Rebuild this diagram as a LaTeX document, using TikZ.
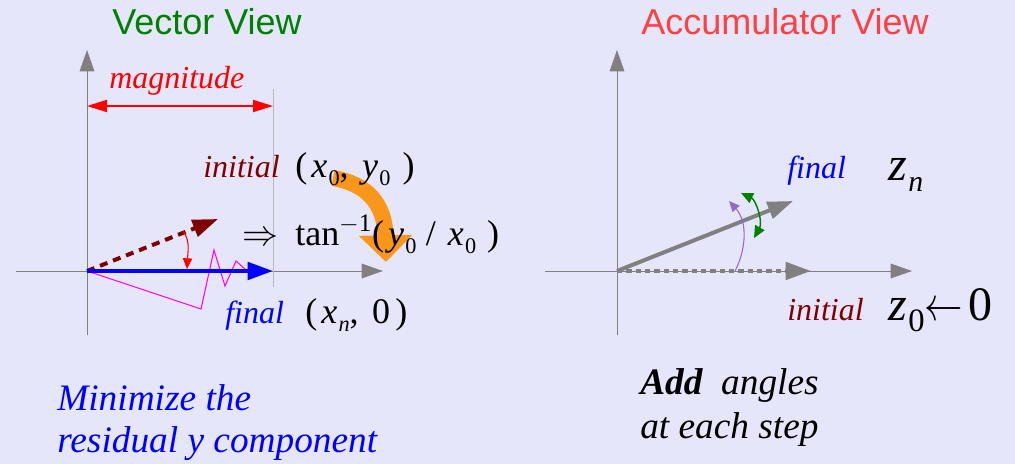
\RequirePackage{fix-cm}
\documentclass[tikz,border=0pt]{standalone}
\usepackage{fontspec}
\setmainfont{Liberation Serif}[
  UprightFont={Liberation Serif},
  ItalicFont={Liberation Serif Italic},
  BoldFont={Liberation Serif Bold},
  BoldItalicFont={Liberation Serif Bold Italic}]
\setsansfont{Liberation Sans}
\usepackage{tikz}
\usetikzlibrary{arrows.meta}
\definecolor{bglav}{RGB}{230,230,250}
\definecolor{axgray}{RGB}{128,128,128}
\definecolor{guidegray}{RGB}{185,185,190}
\definecolor{ttlgreen}{RGB}{0,128,0}
\definecolor{ttlred}{RGB}{255,64,64}
\definecolor{magred}{RGB}{255,0,0}
\definecolor{initred}{RGB}{128,0,0}
\definecolor{finblue}{RGB}{0,0,255}
\definecolor{turnorange}{RGB}{250,150,25}
\definecolor{zigmag}{RGB}{255,0,255}
\definecolor{angpurple}{RGB}{153,102,204}
\definecolor{anggreen}{RGB}{0,128,0}
\tikzset{
  title/.style={anchor=base west, inner sep=0pt,
    font=\sffamily\fontsize{27}{32}\selectfont},
  lbl/.style={anchor=base west, inner sep=0pt,
    font=\fontsize{24}{28}\selectfont\itshape},
  eqn/.style={anchor=base west, inner sep=0pt,
    font=\fontsize{27}{30}\selectfont},
  bigeqn/.style={anchor=base west, inner sep=0pt,
    font=\fontsize{36}{40}\selectfont},
  note/.style={anchor=base west, inner sep=0pt, align=left,
    font=\fontsize{28}{30}\selectfont\itshape},
  axisline/.style={draw=axgray, line width=0.75pt,
    -{Triangle[length=16pt,width=11pt]}},
  guide/.style={draw=guidegray, line width=0.75pt},
  magarrow/.style={draw=magred, line width=1.5pt,
    {Triangle[length=15pt,width=9pt]}-{Triangle[length=15pt,width=9pt]}},
  vecarrow/.style={line width=3pt, -{Triangle[length=19pt,width=13pt]}},
  thinarrow/.style={line width=0.8pt, -{Triangle[length=8pt,width=7pt]}}
}
% italic letter with a lowered, smaller subscript
\newcommand{\sbs}[3][0.62]{\textit{#2}\kern1pt\raisebox{-0.24em}{\scalebox{#1}{#3}}}

\begin{document}
\begin{tikzpicture}[x=0.75pt, y=-0.75pt]
  \fill[bglav] (0,0) rectangle (1015,464);
  \useasboundingbox (0,0) rectangle (1015,464);

  % ---- Vector View ----
  \coordinate (vo) at (87,271);
  \coordinate (vybot) at (87,335);
  \coordinate (vytop) at (87,50);
  \coordinate (vxl) at (16,271);
  \coordinate (vxr) at (383,271);
  \coordinate (gtop) at (273,89);
  \coordinate (gbot) at (273,287);
  \coordinate (mleft) at (87,106);
  \coordinate (mright) at (273,106);
  \coordinate (vinit) at (218,219);
  \coordinate (vfin) at (273,271);
  \draw[axisline] (vybot) -- (vytop);
  \draw[axisline] (vxl) -- (vxr);
  \draw[guide] (gtop) -- (gbot);
  \draw[magarrow] (mleft) -- (mright);

  % orange turn arrow, under the text
  \coordinate (tstart) at (333,178);
  \coordinate (tend) at (386,262);
  \draw[turnorange, line width=12pt, -{Triangle[length=20pt,width=39pt]}]
    (tstart) .. controls (368,184) and (385,205) .. (tend);

  \draw[zigmag, line width=0.8pt] (vo) -- (201,309) -- (214,250) -- (225,286)
    -- (236,261) -- (246,270);
  \draw[vecarrow, initred, dash pattern=on 6pt off 4.5pt] (vo) -- (vinit);
  \draw[vecarrow, finblue] (vo) -- (vfin);
  \draw[thinarrow, magred] (183,231) .. controls (190,240) and (188,250) .. (187,269);

  \node[title, text=ttlgreen] (vtitle) at (112,35) {Vector View};
  \node[lbl, text=magred] (mlabel) at (109,88) {magnitude};
  \node[lbl, text=initred] (vinitlbl) at (203,177) {initial};
  \node[eqn] (vinitxy) at (295,177) {(\kern3pt\sbs{x}{0},\kern10pt\sbs{y}{0}\kern9pt)};
  \node[eqn] (impl) at (242,245) {$\Rightarrow$};
  \node[eqn] (atan) at (295,245)
    {tan\textsuperscript{$-$1}(\kern3pt\sbs{y}{0}\kern7pt/\kern9pt\sbs{x}{0}\kern8pt)};
  \node[lbl, text=finblue] (vfinlbl) at (225,323) {final};
  \node[eqn] (vfinxy) at (305,323) {(\kern3pt\sbs{x}{\textit{n}},\kern10pt0\kern4pt)};
  \node[note, text=finblue] (vnote) at (57,452)
    {Minimize the\\[1pt]residual y component};

  % ---- Accumulator View ----
  \coordinate (ao) at (617,271);
  \coordinate (aybot) at (617,335);
  \coordinate (aytop) at (617,50);
  \coordinate (axl) at (545,271);
  \coordinate (axr) at (912,271);
  \coordinate (ainit) at (811,271);
  \coordinate (afin) at (793,201);
  \draw[axisline] (aybot) -- (aytop);
  \draw[axisline] (axl) -- (axr);
  \draw[vecarrow, axgray, dash pattern=on 4pt off 3pt] (ao) -- (ainit);
  \draw[vecarrow, axgray] (ao) -- (afin);
  \draw[thinarrow, angpurple] (735,271) .. controls (746,250) and (748,222) .. (729,201);
  \draw[anggreen, line width=1.1pt,
    {Triangle[length=9pt,width=8pt]}-{Triangle[length=9pt,width=8pt]}]
    (741,193) .. controls (756,200) and (763,222) .. (754,238);

  \node[title, text=ttlred] (atitle) at (641,35) {Accumulator View};
  \node[lbl, text=finblue] (afinlbl) at (787,178) {final};
  \node[bigeqn] (zn) at (888,180) {\sbs[0.62]{z}{\textit{n}}};
  \node[lbl, text=initred] (ainitlbl) at (787,320) {initial};
  \node[bigeqn] (zzero) at (888,320)
    {\sbs[0.68]{z}{0}\scalebox{0.8}[1]{$\leftarrow$}\kern4pt0};
  \node[note] (anote) at (640,438)
    {\textbf{Add}\enspace angles\\[3pt]at each step};
\end{tikzpicture}
\end{document}
